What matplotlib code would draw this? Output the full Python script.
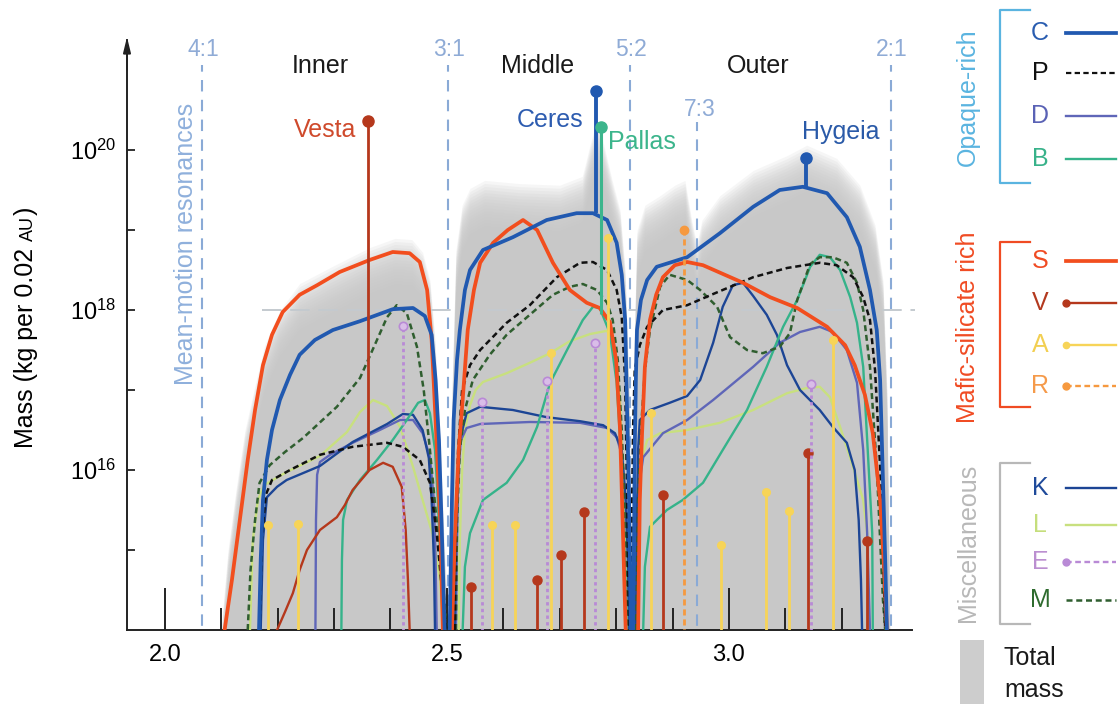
import numpy as np
import matplotlib
matplotlib.use("Agg")
import matplotlib.pyplot as plt
from matplotlib.patches import Rectangle
from matplotlib.ticker import NullLocator

plt.rcParams["font.family"] = ["Liberation Sans", "DejaVu Sans"]
plt.rcParams["mathtext.fontset"] = "custom"
plt.rcParams["mathtext.rm"] = "Liberation Sans"
plt.rcParams["mathtext.it"] = "Liberation Sans:italic"

nan = np.nan

# Semi-major axis (AU) and log10 mass per 0.02 AU bin for each class.
# nan separates the inner, middle and outer belt.
a_C = [2.167, 2.170, 2.174, 2.181, 2.190, 2.204, 2.222, 2.239, 2.266, 2.298, 2.346, 2.404, 2.440, 2.461, 2.473, 2.480, 2.486, 2.491, 2.496, nan,
       2.505, 2.509, 2.512, 2.518, 2.523, 2.532, 2.541, 2.564, 2.617, 2.677, 2.730, 2.759, 2.784, 2.801, 2.810, 2.816, 2.819, 2.823, 2.826, nan,
       2.830, 2.832, 2.833, 2.835, 2.837, 2.844, 2.855, 2.872, 2.926, 2.984, 3.043, 3.090, 3.131, 3.174, 3.209, 3.232, 3.250, 3.262, 3.268, 3.273, 3.277, 3.280]
m_C = [14.0, 14.875, 15.625, 16.125, 16.5, 16.875, 17.19, 17.44, 17.625, 17.75, 17.86, 18.01, 18.025, 17.925, 17.69, 17.125, 16.375, 15.25, 14.0, nan,
       14.0, 15.625, 16.625, 17.375, 17.75, 18.25, 18.5, 18.75, 18.91, 19.125, 19.21, 19.21, 19.125, 18.84, 18.44, 17.875, 16.875, 15.625, 14.0, nan,
       14.0, 15.375, 16.25, 17.125, 17.75, 18.125, 18.375, 18.54, 18.66, 18.96, 19.29, 19.5, 19.54, 19.46, 19.16, 18.79, 18.25, 17.75, 17.125, 15.875, 14.875, 14.0]

a_S = [2.106, 2.119, 2.133, 2.147, 2.160, 2.174, 2.190, 2.209, 2.239, 2.270, 2.310, 2.363, 2.404, 2.434, 2.452, 2.465, 2.473, 2.480, 2.488, 2.493, nan,
       2.509, 2.514, 2.521, 2.528, 2.537, 2.548, 2.559, 2.582, 2.608, 2.635, 2.660, 2.688, 2.718, 2.748, 2.771, 2.789, 2.800, 2.807, 2.812, 2.817, nan,
       2.839, 2.842, 2.846, 2.851, 2.860, 2.871, 2.883, 2.904, 2.926, 2.954, 3.025, 3.073, 3.121, 3.174, 3.206, 3.223, 3.241, 3.255, 3.268, 3.275, 3.280]
m_S = [14.0, 14.625, 15.375, 16.125, 16.75, 17.31, 17.69, 17.975, 18.19, 18.31, 18.475, 18.625, 18.725, 18.71, 18.6, 18.25, 17.625, 16.625, 15.375, 14.0, nan,
       14.0, 15.125, 16.25, 16.875, 17.75, 18.25, 18.59, 18.84, 19.0, 19.125, 19.0, 18.59, 18.25, 18.09, 18.025, 17.85, 17.375, 16.5, 15.25, 14.0, nan,
       14.0, 15.625, 16.46, 17.29, 17.875, 18.19, 18.41, 18.56, 18.6, 18.56, 18.34, 18.16, 18.025, 17.79, 17.56, 17.31, 16.94, 16.46, 15.625, 14.79, 14.0]

a_P = [2.168, 2.172, 2.179, 2.190, 2.222, 2.275, 2.333, 2.394, 2.422, 2.452, 2.470, 2.482, 2.493, 2.500, nan,
       2.514, 2.516, 2.520, 2.527, 2.541, 2.559, 2.606, 2.647, 2.695, 2.736, 2.759, 2.784, 2.801, 2.810, 2.816, 2.819, 2.823, nan,
       2.827, 2.828, 2.830, 2.833, 2.842, 2.855, 2.883, 2.926, 2.972, 3.043, 3.103, 3.161, 3.191, 3.220, 3.238, 3.250, 3.259, 3.268, 3.273, 3.277]
m_P = [14.0, 15.125, 15.69, 15.875, 16.0, 16.19, 16.29, 16.34, 16.29, 16.125, 15.84, 15.21, 14.375, 14.0, nan,
       14.0, 15.375, 16.25, 17.0, 17.31, 17.5, 17.84, 18.06, 18.41, 18.59, 18.6, 18.5, 18.25, 17.91, 17.125, 15.875, 14.0, nan,
       14.0, 15.375, 16.5, 17.25, 17.56, 17.79, 18.0, 18.06, 18.2, 18.41, 18.525, 18.59, 18.56, 18.41, 18.16, 17.875, 17.25, 16.04, 15.0, 14.0]

a_M = [2.147, 2.152, 2.160, 2.168, 2.186, 2.213, 2.245, 2.305, 2.346, 2.372, 2.394, 2.411, 2.429, 2.447, 2.459, 2.470, 2.480, 2.491, 2.500, nan,
       2.516, 2.518, 2.523, 2.532, 2.546, 2.576, 2.606, 2.647, 2.688, 2.718, 2.741, 2.766, 2.784, 2.794, 2.803, 2.810, 2.816, 2.821, nan,
       2.835, 2.839, 2.844, 2.851, 2.860, 2.878, 2.895, 2.926, 2.949, 2.979, 3.002, 3.032, 3.060, 3.090, 3.108, 3.121, 3.144, 3.161, 3.184, 3.209,
       3.227, 3.238, 3.250, 3.262, 3.273, 3.277]
m_M = [14.0, 14.75, 15.375, 15.84, 16.06, 16.225, 16.4, 16.79, 17.15, 17.56, 17.91, 18.06, 17.96, 17.54, 17.0, 16.25, 15.5, 14.75, 14.0, nan,
       14.0, 15.375, 16.25, 16.75, 17.125, 17.44, 17.69, 17.94, 18.19, 18.29, 18.325, 18.25, 18.09, 17.875, 17.375, 16.5, 15.375, 14.0, nan,
       14.0, 15.625, 16.5, 17.25, 17.75, 18.29, 18.44, 18.375, 18.25, 18.04, 17.66, 17.5, 17.46, 17.54, 17.71, 18.125, 18.575, 18.66, 18.66, 18.59,
       18.34, 18.0, 17.29, 16.04, 14.375, 14.0]

a_B = [2.313, 2.314, 2.316, 2.323, 2.346, 2.376, 2.404, 2.429, 2.449, 2.461, 2.470, 2.479, 2.484, 2.489, 2.493, nan,
       2.528, 2.532, 2.541, 2.564, 2.606, 2.635, 2.660, 2.683, 2.713, 2.741, 2.759, 2.771, 2.789, 2.801, 2.810, 2.816, 2.819, nan,
       2.848, 2.851, 2.860, 2.890, 2.918, 2.954, 2.989, 3.032, 3.067, 3.096, 3.121, 3.144, 3.161, 3.179, 3.197, 3.215, 3.227, 3.238, 3.246, 3.254, 3.255]
m_B = [14.0, 14.875, 15.375, 15.625, 15.875, 16.125, 16.375, 16.625, 16.84, 16.875, 16.71, 16.25, 15.625, 14.79, 14.0, nan,
       14.0, 14.79, 15.21, 15.625, 15.84, 16.125, 16.54, 17.09, 17.5, 17.875, 18.04, 18.025, 17.71, 17.09, 16.04, 14.79, 14.0, nan,
       14.0, 14.79, 15.29, 15.5, 15.625, 15.84, 16.25, 16.75, 17.29, 17.79, 18.125, 18.54, 18.69, 18.66, 18.5, 18.16, 17.84, 17.29, 16.25, 15.21, 14.0]

a_D = [2.267, 2.268, 2.270, 2.275, 2.293, 2.333, 2.381, 2.417, 2.440, 2.457, 2.470, 2.477, 2.480, 2.482, nan,
       2.516, 2.518, 2.520, 2.525, 2.535, 2.559, 2.647, 2.736, 2.784, 2.801, 2.810, 2.817, 2.821, 2.824, nan,
       2.830, 2.837, 2.848, 2.883, 2.926, 2.972, 3.043, 3.090, 3.126, 3.161, 3.184, 3.209, 3.227, 3.238, 3.245, 3.250]
m_D = [14.0, 15.375, 15.94, 16.1, 16.19, 16.34, 16.5, 16.625, 16.625, 16.46, 16.16, 15.625, 14.875, 14.0, nan,
       14.0, 15.125, 16.0, 16.375, 16.525, 16.575, 16.6, 16.59, 16.525, 16.41, 16.19, 15.625, 14.875, 14.0, nan,
       14.0, 15.625, 16.16, 16.46, 16.625, 16.875, 17.29, 17.59, 17.725, 17.79, 17.725, 17.5, 17.09, 16.25, 15.21, 14.0]

a_K = [2.170, 2.174, 2.181, 2.199, 2.216, 2.275, 2.333, 2.394, 2.422, 2.440, 2.457, 2.468, 2.473, 2.477, 2.479, nan,
       2.514, 2.516, 2.520, 2.523, 2.535, 2.559, 2.617, 2.677, 2.736, 2.777, 2.798, 2.810, 2.817, 2.821, 2.823, nan,
       2.835, 2.837, 2.839, 2.842, 2.860, 2.895, 2.926, 2.949, 2.972, 2.989, 3.007, 3.025, 3.043, 3.067, 3.085, 3.103, 3.126, 3.161, 3.184, 3.209,
       3.223, 3.230, 3.234, 3.236]
m_K = [14.0, 15.125, 15.66, 15.79, 15.875, 16.05, 16.35, 16.575, 16.7, 16.69, 16.5, 16.15, 15.625, 14.875, 14.0, nan,
       14.0, 15.125, 15.875, 16.375, 16.71, 16.79, 16.75, 16.66, 16.61, 16.56, 16.46, 16.25, 15.625, 14.875, 14.0, nan,
       14.0, 15.375, 16.25, 16.625, 16.75, 16.84, 16.925, 17.125, 17.59, 18.04, 18.31, 18.34, 18.175, 17.94, 17.69, 17.31, 17.0, 16.75, 16.54, 16.34,
       16.0, 15.375, 14.625, 14.0]

a_L = [2.151, 2.156, 2.165, 2.176, 2.216, 2.275, 2.323, 2.346, 2.369, 2.394, 2.417, 2.440, 2.457, 2.475, 2.488, 2.493, nan,
       2.521, 2.523, 2.527, 2.532, 2.541, 2.551, 2.564, 2.606, 2.647, 2.683, 2.718, 2.754, 2.784, 2.796, 2.807, 2.814, 2.819, nan,
       2.839, 2.842, 2.855, 2.878, 2.926, 2.984, 3.043, 3.103, 3.138, 3.161, 3.179, 3.197, 3.220, 3.238, 3.245, 3.246]
m_L = [14.0, 15.125, 15.625, 15.81, 15.975, 16.175, 16.475, 16.725, 16.875, 16.8, 16.54, 16.04, 15.625, 15.19, 14.625, 14.0, nan,
       14.0, 15.125, 16.0, 16.5, 16.81, 17.0, 17.1, 17.21, 17.34, 17.46, 17.61, 17.7, 17.74, 17.56, 16.875, 15.625, 14.0, nan,
       14.0, 16.04, 16.375, 16.46, 16.5, 16.59, 16.75, 16.96, 17.025, 17.04, 16.91, 16.54, 16.04, 15.625, 15.21, 14.0]

# V-type continuum in the inner belt
a_V = [2.199, 2.213, 2.227, 2.239, 2.252, 2.275, 2.305, 2.319, 2.333, 2.363, 2.387, 2.404, 2.420, 2.427, 2.431, 2.434]
m_V = [14.0, 14.225, 14.46, 14.75, 15.0, 15.25, 15.41, 15.56, 15.75, 16.0, 16.09, 16.04, 15.79, 15.25, 14.625, 14.0]

# total mass envelope
a_tot = [2.101, 2.112, 2.126, 2.142, 2.160, 2.177, 2.204, 2.239, 2.293, 2.363, 2.408, 2.438, 2.457, 2.470, 2.479, 2.488, 2.495, 2.502,
         2.504, 2.509, 2.516, 2.527, 2.541, 2.567, 2.629, 2.700, 2.740, 2.754, 2.766, 2.778, 2.793, 2.807, 2.816, 2.823, 2.828,
         2.829, 2.832, 2.837, 2.851, 2.878, 2.904, 2.922, 2.934, 2.943, 2.952, 2.984, 3.043, 3.103, 3.138, 3.191, 3.232, 3.259, 3.273, 3.280, 3.285]
m_tot = [14.0, 14.875, 15.625, 16.375, 16.94, 17.44, 17.875, 18.21, 18.41, 18.66, 18.775, 18.76, 18.6, 18.25, 17.5, 16.25, 15.0, 14.0,
         14.0, 16.875, 18.625, 19.19, 19.4, 19.5, 19.46, 19.44, 19.55, 19.95, 20.25, 19.95, 19.5, 19.125, 18.375, 16.875, 14.0,
         14.0, 17.5, 18.875, 19.19, 19.31, 19.44, 19.5, 19.0, 18.7, 19.0, 19.31, 19.625, 19.81, 19.94, 19.775, 19.44, 18.94, 18.25, 16.875, 14.0]

# single objects drawn as stems (a, log10 mass)
v_obj_a = [2.543, 2.660, 2.702, 2.743, 2.883, 3.140, 3.245]
v_obj_m = [14.54, 14.625, 14.94, 15.475, 15.69, 16.21, 15.11]
a_obj_a = [2.183, 2.236, 2.580, 2.621, 2.684, 2.785, 2.862, 2.986, 3.066, 3.106, 3.184]
a_obj_m = [15.31, 15.325, 15.31, 15.31, 17.46, 18.9, 16.71, 15.06, 15.725, 15.49, 17.625]
e_obj_a = [2.422, 2.562, 2.677, 2.762, 3.145]
e_obj_m = [17.8, 16.85, 17.11, 17.59, 17.075]
r_obj_a = [2.920]
r_obj_m = [19.0]

big_names = ["Vesta", "Ceres", "Pallas", "Hygeia"]
big_a = [2.361, 2.764, 2.773, 3.137]
big_top = [20.36, 20.74, 20.29, 19.9]
big_base = [16.0, 19.21, 17.95, 19.54]

resonances = ["4:1", "3:1", "5:2", "7:3", "2:1"]
resonance_a = [2.066, 2.502, 2.825, 2.943, 3.287]
regions = ["Inner", "Middle", "Outer"]

COL = {
    "C": "#2159b0", "P": "#111111", "D": "#5f66b8", "B": "#35b38a",
    "S": "#f24e1e", "V": "#b5381c", "A": "#f7d458", "R": "#f6993f",
    "K": "#1c4595", "L": "#c8e07f", "E": "#b98ad6", "M": "#2f5e2f",
}
RES_COL = "#8aaad6"


def lm(v):
    return 10 ** np.asarray(v, dtype=float)


fig = plt.figure(figsize=(11.2, 7.04), dpi=100)
ax = fig.add_axes([127 / 1120, 74 / 704, 785 / 1120, 590 / 704])
ax.set_yscale("log")
ax.set_xlim(1.933, 3.3245)
ax.set_ylim(1e14, 10 ** 21.375)

# soft grey total-mass envelope, built from stacked translucent layers
for off in np.linspace(0.12, -0.45, 16):
    ax.fill_between(a_tot, 1e13, lm(np.asarray(m_tot) + off), color="#c8c8c8",
                    alpha=0.155, lw=0, zorder=0)

# mean-motion resonances
for name, a in zip(resonances, resonance_a):
    top = 20.35 if name == "7:3" else 21.06
    ax.vlines(a, 1e13, 10 ** top, color=RES_COL, lw=1.5, ls=(0, (5.5, 4)), zorder=1)
    ty = 20.5 if name == "7:3" else 21.25
    ax.text(a + (0.006 if name == "7:3" else 0.002), 10 ** ty, name, ha="center", va="center",
            fontsize=16.5, color="#8fabd6")
ax.text(2.037, 10 ** 18.83, "Mean-motion resonances", rotation=90, ha="center", va="center",
        fontsize=18, color="#8fb0dc")

ax.hlines(1e18, 2.172, 3.33, color="#c4cacf", lw=1.4, ls=(0, (10, 4.5)), zorder=1.5, clip_on=False)

for name, x in zip(regions, [2.275, 2.661, 3.051]):
    ax.text(x, 10 ** 21.05, name, ha="center", va="center", fontsize=18, color="#1a1a1a")

# class distributions
ax.plot(a_L, lm(m_L), color=COL["L"], lw=1.7, zorder=3)
ax.plot(a_D, lm(m_D), color=COL["D"], lw=1.7, zorder=3)
ax.plot(a_K, lm(m_K), color=COL["K"], lw=1.7, zorder=3)
ax.plot(a_B, lm(m_B), color=COL["B"], lw=1.7, zorder=3)
ax.plot(a_V, lm(m_V), color=COL["V"], lw=1.7, zorder=3)
ax.plot(a_M, lm(m_M), color=COL["M"], lw=1.8, ls=(0, (2.4, 1.5)), zorder=3.2)
ax.plot(a_P, lm(m_P), color=COL["P"], lw=1.8, ls=(0, (2.4, 1.5)), zorder=3.2)
ax.plot(a_S, lm(m_S), color=COL["S"], lw=2.7, zorder=3.4, solid_joinstyle="round")
ax.plot(a_C, lm(m_C), color=COL["C"], lw=2.7, zorder=3.5, solid_joinstyle="round")

# individual objects
ax.vlines(a_obj_a, 1e13, lm(a_obj_m), color=COL["A"], lw=2, zorder=4)
ax.plot(a_obj_a, lm(a_obj_m), "o", color=COL["A"], ms=5.5, zorder=4)
ax.vlines(v_obj_a, 1e13, lm(v_obj_m), color=COL["V"], lw=2, zorder=4)
ax.plot(v_obj_a, lm(v_obj_m), "o", color=COL["V"], ms=6.5, zorder=4)
ax.vlines(e_obj_a, 1e13, lm(e_obj_m), color=COL["E"], lw=2, ls=(0, (1.2, 1.2)), zorder=4)
ax.plot(e_obj_a, lm(e_obj_m), "o", mfc="#d9bde8", mec=COL["E"], mew=1.2, ms=6, zorder=4)
ax.vlines(r_obj_a, 1e13, lm(r_obj_m), color=COL["R"], lw=2, ls=(0, (2.2, 1.4)), zorder=4)
ax.plot(r_obj_a, lm(r_obj_m), "o", color=COL["R"], ms=6, zorder=4)

big_style = {
    "Vesta": (COL["V"], 2.0, "#cf4a2c", (-9, -6), "right"),
    "Ceres": (COL["C"], 2.8, "#2d5cb0", (-9, -21), "right"),
    "Pallas": ("#3cb58c", 2.2, "#3cb58c", (5, -11), "left"),
    "Hygeia": (COL["C"], 2.8, "#2a5aa8", (25, 19), "center"),
}
for name, a, top, base in zip(big_names, big_a, big_top, big_base):
    col, lw, tcol, off, ha = big_style[name]
    ax.vlines(a, 10 ** base, 10 ** top, color=col, lw=lw, zorder=5)
    ax.plot(a, 10 ** top, "o", color=col, ms=8, zorder=5)
    ax.annotate(name, (a, 10 ** top), xytext=off, textcoords="offset points", ha=ha,
                va="center", fontsize=18, color=tcol, zorder=6)

# axes styling
for side in ("top", "right"):
    ax.spines[side].set_visible(False)
for side in ("left", "bottom"):
    ax.spines[side].set_color("#222222")
    ax.spines[side].set_linewidth(1.4)
ax.patch.set_alpha(0)

ax.set_yticks([1e15, 1e16, 1e17, 1e18, 1e19, 1e20])
ax.set_yticklabels(["", r"$\mathregular{10^{16}}$", "", r"$\mathregular{10^{18}}$", "",
                    r"$\mathregular{10^{20}}$"])
ax.yaxis.set_minor_locator(NullLocator())
ax.tick_params(axis="y", direction="in", length=6, width=1.3, labelsize=17, pad=8,
               color="#222222")

ax.set_xticks([2.0, 2.5, 3.0])
ax.set_xticklabels(["2.0", "2.5", "3.0"])
ax.set_xticks([2.1, 2.2, 2.3, 2.4, 2.6, 2.7, 2.8, 2.9, 3.1, 3.2], minor=True)
ax.tick_params(axis="x", which="major", direction="in", length=30, width=1.4, labelsize=17,
               pad=10, color="#222222")
ax.tick_params(axis="x", which="minor", direction="in", length=16, width=1.4, color="#222222")

ax.annotate("", xy=(0, 1.005), xytext=(0, 0.95), xycoords="axes fraction",
            arrowprops=dict(arrowstyle="-|>,head_length=0.9,head_width=0.22", color="#222222",
                            lw=1.4, shrinkA=0, shrinkB=0), annotation_clip=False)

# y label with small-caps AU
fig.canvas.draw()
rend = fig.canvas.get_renderer()
t1 = fig.text(33 / 1120, 1 - 448 / 704, "Mass (kg per 0.02", rotation=90,
              rotation_mode="anchor", ha="left", va="baseline", fontsize=18)
y_end = t1.get_window_extent(rend).y1 + 7
t2 = fig.text(33 / 1120, y_end / 704, "AU", rotation=90, rotation_mode="anchor",
              ha="left", va="baseline", fontsize=13)
y_end = t2.get_window_extent(rend).y1 + 1
fig.text(33 / 1120, y_end / 704, ")", rotation=90, rotation_mode="anchor",
         ha="left", va="baseline", fontsize=18)

# key on the right, laid out in pixel units
lg = fig.add_axes([0, 0, 1, 1], facecolor="none")
lg.set_xlim(0, 1120)
lg.set_ylim(704, 0)
lg.axis("off")

groups = [
    ("Opaque-rich", "#5ab4e0", 10, 183, 97,
     [("C", 33, COL["C"], "#2a5db0", 2.7, "-", None),
      ("P", 73, COL["P"], "#111111", 1.6, (0, (2.4, 1.5)), None),
      ("D", 116, COL["D"], "#5a62b5", 1.7, "-", None),
      ("B", 159, COL["B"], "#38b28a", 1.7, "-", None)]),
    ("Mafic-silicate rich", "#f04b23", 242, 407, 327,
     [("S", 261, COL["S"], "#f04b23", 2.7, "-", None),
      ("V", 303, COL["V"], "#b3391f", 1.7, "-", 5),
      ("A", 345, COL["A"], "#f2cf52", 1.7, "-", 4.5),
      ("R", 386, COL["R"], "#f59a4a", 1.7, (0, (2.4, 1.5)), 5)]),
    ("Miscellaneous", "#b8b8b8", 463, 624, 543,
     [("K", 488, COL["K"], "#1f4a9a", 1.7, "-", None),
      ("L", 525, COL["L"], "#c5de7c", 1.7, "-", None),
      ("E", 562, COL["E"], "#bb8fd0", 1.7, (0, (2.4, 1.5)), 5),
      ("M", 600, COL["M"], "#2e6b2e", 1.8, (0, (2.4, 1.5)), None)]),
]
for title, gcol, y0, y1, yc, rows in groups:
    lg.plot([1030, 1000, 1000, 1030], [y0, y0, y1, y1], color=gcol, lw=1.6)
    lg.text(968, yc, title, rotation=90, ha="center", va="center", fontsize=18, color=gcol)
    for letter, y, lcol, tcol, lw, ls, ms in rows:
        lg.text(1040, y, letter, ha="center", va="center", fontsize=18, color=tcol)
        lg.plot([1066, 1116], [y, y], color=lcol, lw=lw, ls=ls)
        if ms:
            lg.plot([1066], [y], "o", color=lcol, ms=ms)

lg.add_patch(Rectangle((960, 640), 24, 64, color="#cdcdcd", lw=0))
lg.text(1004, 658, "Total", ha="left", va="center", fontsize=18, color="#1a1a1a")
lg.text(1004, 690, "mass", ha="left", va="center", fontsize=18, color="#1a1a1a")

fig.savefig("out.png", dpi=100, facecolor="white")
